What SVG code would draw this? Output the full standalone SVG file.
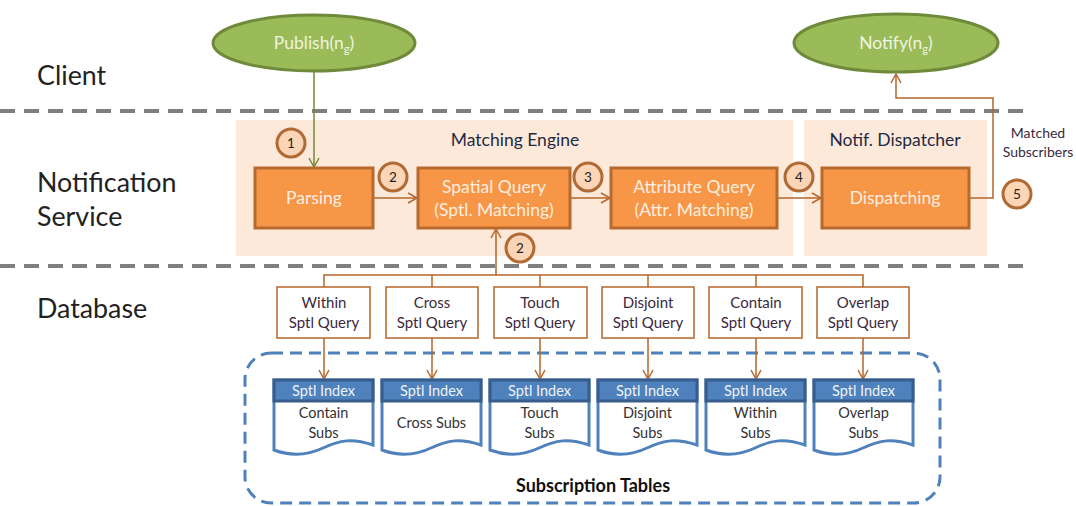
<svg xmlns="http://www.w3.org/2000/svg" width="1076" height="506" viewBox="0 0 1076 506">
<defs>
<style>
text{font-family:Lato,"Open Sans","Liberation Sans",sans-serif}
.lane{font-size:26.8px;fill:#222}
.dash{stroke:#7f7f7f;stroke-width:4;stroke-dasharray:15 9;fill:none}
.bg{fill:#fde9d9}
.grp{font-size:17.5px;fill:#1f2a44;text-anchor:middle}
.proc{fill:#f79646;stroke:#b66a30;stroke-width:3}
.ptxt{font-size:17.5px;fill:#fdeee0;text-anchor:middle}
.ell{fill:#9bbb59;stroke:#6f8a3a;stroke-width:3}
.etxt{font-size:17.5px;fill:#eef4e0;text-anchor:middle}
.num{fill:#fbd5b5;stroke:#b06a35;stroke-width:3}
.ntxt{font-size:13.5px;fill:#222;text-anchor:middle}
.q{fill:#fff;stroke:#b5652a;stroke-width:1.5}
.qtxt{font-size:15px;fill:#3a2a40;text-anchor:middle}
.conn{stroke:#b5652a;stroke-width:1.5;fill:none}
.doc{fill:#fff;stroke:#4f81bd;stroke-width:3}
.hdr{fill:#4f81bd;stroke:#385d8a;stroke-width:3}
.htxt{font-size:14.5px;fill:#eef2f8;text-anchor:middle}
.dtxt{font-size:14.5px;fill:#333;text-anchor:middle}
</style>
<marker id="ab" markerWidth="12" markerHeight="12" refX="10" refY="6" orient="auto" markerUnits="userSpaceOnUse"><path d="M1,1 L10,6 L1,11" fill="none" stroke="#b5652a" stroke-width="1.5"/></marker>
<marker id="ag" markerWidth="12" markerHeight="12" refX="10" refY="6" orient="auto" markerUnits="userSpaceOnUse"><path d="M1,1 L10,6 L1,11" fill="none" stroke="#6f8a3a" stroke-width="1.5"/></marker>
</defs>
<rect width="1076" height="506" fill="#fff"/>
<g id="lanes">
<text class="lane" x="37" y="85">Client</text>
<text class="lane" x="37" y="192">Notification</text>
<text class="lane" x="37" y="226">Service</text>
<text class="lane" x="37" y="318">Database</text>
<line class="dash" x1="0" y1="111" x2="1030" y2="111"/>
<line class="dash" x1="0" y1="266" x2="1030" y2="266"/>
</g>
<g id="matching-engine">
<rect class="bg" x="236" y="120" width="557" height="136"/>
<text class="grp" x="515" y="146">Matching Engine</text>
</g>
<g id="notif-dispatcher">
<rect class="bg" x="804" y="120" width="183" height="136"/>
<text class="grp" x="895" y="146">Notif. Dispatcher</text>
</g>
<g id="subscription-tables">
<rect x="245" y="353" width="695" height="150" rx="26" fill="none" stroke="#4f81bd" stroke-width="3" stroke-dasharray="12 7"/>
<text x="593" y="492" font-size="18" font-weight="bold" fill="#111" text-anchor="middle">Subscription Tables</text>
</g>
<g id="connectors">
<line x1="314" y1="72" x2="314" y2="167" stroke="#6f8a3a" stroke-width="1.5" marker-end="url(#ag)"/>
<line class="conn" x1="373" y1="198" x2="417" y2="198" marker-end="url(#ab)"/>
<line class="conn" x1="570" y1="198" x2="610" y2="198" marker-end="url(#ab)"/>
<line class="conn" x1="777" y1="198" x2="821" y2="198" marker-end="url(#ab)"/>
<polyline class="conn" points="969,198 993,198 993,98 896,98 896,74" marker-end="url(#ab)"/>
<line class="conn" x1="496" y1="275" x2="496" y2="229" marker-end="url(#ab)"/>
<polyline class="conn" points="324,287 324,275 863,275 863,287"/>
<line class="conn" x1="432" y1="275" x2="432" y2="287"/>
<line class="conn" x1="540" y1="275" x2="540" y2="287"/>
<line class="conn" x1="648" y1="275" x2="648" y2="287"/>
<line class="conn" x1="756" y1="275" x2="756" y2="287"/>
<line class="conn" x1="324" y1="338" x2="324" y2="379" marker-end="url(#ab)"/>
<line class="conn" x1="432" y1="338" x2="432" y2="379" marker-end="url(#ab)"/>
<line class="conn" x1="540" y1="338" x2="540" y2="379" marker-end="url(#ab)"/>
<line class="conn" x1="648" y1="338" x2="648" y2="379" marker-end="url(#ab)"/>
<line class="conn" x1="756" y1="338" x2="756" y2="379" marker-end="url(#ab)"/>
<line class="conn" x1="863" y1="338" x2="863" y2="379" marker-end="url(#ab)"/>
</g>
<g id="publish">
<ellipse class="ell" cx="314" cy="43" rx="101" ry="28"/>
<text class="etxt" x="314" y="49">Publish(n<tspan font-size="11" dy="4">g</tspan><tspan dy="-4">)</tspan></text>
</g>
<g id="notify">
<ellipse class="ell" cx="896" cy="43" rx="102" ry="29"/>
<text class="etxt" x="896" y="49">Notify(n<tspan font-size="11" dy="4">g</tspan><tspan dy="-4">)</tspan></text>
</g>
<g id="parsing">
<rect class="proc" x="255" y="168" width="118" height="60"/>
<text class="ptxt" x="314" y="204">Parsing</text>
</g>
<g id="spatial-query">
<rect class="proc" x="418" y="168" width="152" height="60"/>
<text class="ptxt" x="494" y="193">Spatial Query</text>
<text class="ptxt" x="494" y="216">(Sptl. Matching)</text>
</g>
<g id="attribute-query">
<rect class="proc" x="611" y="168" width="166" height="60"/>
<text class="ptxt" x="694" y="193">Attribute Query</text>
<text class="ptxt" x="694" y="216">(Attr. Matching)</text>
</g>
<g id="dispatching">
<rect class="proc" x="822" y="168" width="147" height="60"/>
<text class="ptxt" x="895" y="204">Dispatching</text>
</g>
<g id="matched-label">
<text x="1038" y="138" font-size="14" fill="#3a2a40" text-anchor="middle">Matched</text>
<text x="1038" y="157" font-size="14" fill="#3a2a40" text-anchor="middle">Subscribers</text>
</g>
<g id="step1"><circle class="num" cx="291" cy="143" r="14"/><text class="ntxt" x="291" y="148">1</text></g>
<g id="step2a"><circle class="num" cx="393" cy="177" r="14"/><text class="ntxt" x="393" y="182">2</text></g>
<g id="step3"><circle class="num" cx="588" cy="177" r="14"/><text class="ntxt" x="588" y="182">3</text></g>
<g id="step2b"><circle class="num" cx="520" cy="248" r="14"/><text class="ntxt" x="520" y="253">2</text></g>
<g id="step4"><circle class="num" cx="799" cy="177" r="14"/><text class="ntxt" x="799" y="182">4</text></g>
<g id="step5"><circle class="num" cx="1017" cy="194" r="14"/><text class="ntxt" x="1017" y="199">5</text></g>
<g id="q-within"><rect class="q" x="277" y="287" width="93" height="51"/><text class="qtxt" x="324" y="308">Within</text><text class="qtxt" x="324" y="328">Sptl Query</text></g>
<g id="q-cross"><rect class="q" x="386" y="287" width="92" height="51"/><text class="qtxt" x="432" y="308">Cross</text><text class="qtxt" x="432" y="328">Sptl Query</text></g>
<g id="q-touch"><rect class="q" x="494" y="287" width="93" height="51"/><text class="qtxt" x="540" y="308">Touch</text><text class="qtxt" x="540" y="328">Sptl Query</text></g>
<g id="q-disjoint"><rect class="q" x="602" y="287" width="92" height="51"/><text class="qtxt" x="648" y="308">Disjoint</text><text class="qtxt" x="648" y="328">Sptl Query</text></g>
<g id="q-contain"><rect class="q" x="709" y="287" width="93" height="51"/><text class="qtxt" x="756" y="308">Contain</text><text class="qtxt" x="756" y="328">Sptl Query</text></g>
<g id="q-overlap"><rect class="q" x="817" y="287" width="92" height="51"/><text class="qtxt" x="863" y="308">Overlap</text><text class="qtxt" x="863" y="328">Sptl Query</text></g>
<g id="t-contain" transform="translate(274,0)">
<path class="doc" d="M0,380 H99 V445 C78,438 66,440 49,448 C32,456 16,456 0,450 Z"/>
<rect class="hdr" x="0" y="380" width="99" height="21"/>
<text class="htxt" x="49.5" y="396">Sptl Index</text>
<text class="dtxt" x="49.5" y="418">Contain</text><text class="dtxt" x="49.5" y="438">Subs</text>
</g>
<g id="t-cross" transform="translate(382,0)">
<path class="doc" d="M0,380 H99 V445 C78,438 66,440 49,448 C32,456 16,456 0,450 Z"/>
<rect class="hdr" x="0" y="380" width="99" height="21"/>
<text class="htxt" x="49.5" y="396">Sptl Index</text>
<text class="dtxt" x="49.5" y="428">Cross Subs</text>
</g>
<g id="t-touch" transform="translate(490,0)">
<path class="doc" d="M0,380 H99 V445 C78,438 66,440 49,448 C32,456 16,456 0,450 Z"/>
<rect class="hdr" x="0" y="380" width="99" height="21"/>
<text class="htxt" x="49.5" y="396">Sptl Index</text>
<text class="dtxt" x="49.5" y="418">Touch</text><text class="dtxt" x="49.5" y="438">Subs</text>
</g>
<g id="t-disjoint" transform="translate(598,0)">
<path class="doc" d="M0,380 H99 V445 C78,438 66,440 49,448 C32,456 16,456 0,450 Z"/>
<rect class="hdr" x="0" y="380" width="99" height="21"/>
<text class="htxt" x="49.5" y="396">Sptl Index</text>
<text class="dtxt" x="49.5" y="418">Disjoint</text><text class="dtxt" x="49.5" y="438">Subs</text>
</g>
<g id="t-within" transform="translate(706,0)">
<path class="doc" d="M0,380 H99 V445 C78,438 66,440 49,448 C32,456 16,456 0,450 Z"/>
<rect class="hdr" x="0" y="380" width="99" height="21"/>
<text class="htxt" x="49.5" y="396">Sptl Index</text>
<text class="dtxt" x="49.5" y="418">Within</text><text class="dtxt" x="49.5" y="438">Subs</text>
</g>
<g id="t-overlap" transform="translate(814,0)">
<path class="doc" d="M0,380 H99 V445 C78,438 66,440 49,448 C32,456 16,456 0,450 Z"/>
<rect class="hdr" x="0" y="380" width="99" height="21"/>
<text class="htxt" x="49.5" y="396">Sptl Index</text>
<text class="dtxt" x="49.5" y="418">Overlap</text><text class="dtxt" x="49.5" y="438">Subs</text>
</g>
</svg>
